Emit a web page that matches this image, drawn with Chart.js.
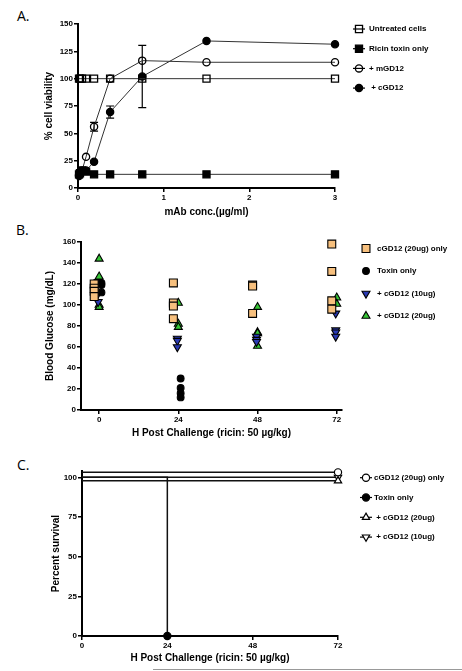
<!DOCTYPE html>
<html>
<head>
<meta charset="utf-8">
<script src="https://cdn.jsdelivr.net/npm/chart.js@4.4.0/dist/chart.umd.min.js"></script>
<style>
  body { margin: 0; background: #fff; width: 462px; height: 671px; position: relative; overflow: hidden; }
  canvas { position: absolute; left: 0; }
  .tag { position: absolute; font-family: "Open Sans", "Liberation Sans", sans-serif; font-size: 14px; line-height: 14px; color: #000; }
  .rule { position: absolute; left: 153px; top: 669px; width: 309px; height: 1px; background: #999; }
</style>
</head>
<body>
<div class="tag" style="left:17px;top:9px">A.</div>
<div class="tag" style="left:16px;top:223px">B.</div>
<div class="tag" style="left:17px;top:458px">C.</div>
<canvas id="chartA" width="462" height="225" style="top:0"></canvas>
<canvas id="chartB" width="462" height="218" style="top:222px"></canvas>
<canvas id="chartC" width="462" height="231" style="top:440px"></canvas>
<div class="rule"></div>
<script>
// A. cell viability vs antibody concentration
const conc = [0.012, 0.023, 0.047, 0.094, 0.1875, 0.375, 0.75, 1.5, 3];
const untreated = [100, 100, 100, 100, 100, 100, 100, 100, 100];
const ricinOnly = [12.5, 13.5, 16, 15, 12.5, 12.5, 12.5, 12.5, 12.5];
const mGD12 = [11, 13, 16, 28.5, 56, 100, 116.5, 115, 115];
const mGD12Err = [0, 0, 0, 0, 4, 0, 0, 0, 0];
const cGD12 = [12, 14, 15, 16, 24, 69.5, 102, 134.5, 131.5];
const cGD12Err = [0, 0, 0, 0, 0, 5.5, 28.5, 0, 0];
const concTicks = [0, 1, 2, 3];
const viabilityTicks = [0, 25, 50, 75, 100, 125, 150];

// B. blood glucose after challenge
const hourTicks = [0, 24, 48, 72];
const glucoseTicks = [0, 20, 40, 60, 80, 100, 120, 140, 160];
const onlyHours = [0, 0, 0, 0, 24, 24, 24, 24, 48, 48, 48, 72, 72, 72, 72];
const onlyGlucose = [120, 116, 113, 108, 121, 102, 99, 87, 119, 118, 92, 158, 132, 104, 96];
const toxinHours = [0, 0, 0, 24, 24, 24, 24];
const toxinGlucose = [121, 119, 112, 30, 21, 16, 12];
const low10Hours = [0, 0, 0, 24, 24, 24, 48, 48, 48, 72, 72, 72, 72];
const low10Glucose = [122, 111, 103, 68, 66, 60, 70, 67, 65, 92, 76, 74, 70];
const high20Hours = [0, 0, 0, 0, 24, 24, 24, 48, 48, 48, 48, 72, 72];
const high20Glucose = [144, 127, 100, 98, 102, 82, 79, 98, 74, 73, 61, 107, 101];

// C. survival
const survivalTicks = [0, 25, 50, 75, 100];
const survHours = [0, 72];
const toxinSurvHours = [0, 24];
const only20Surv = [100, 100];
const toxinSurv = [100, 0];
const plus20Surv = [100, 100];
const plus10Surv = [100, 100];

const FAMILY = '"Liberation Sans", Arial, sans-serif';
const tickFont = { family: FAMILY, size: 8, weight: 'bold' };
const titleFont = { family: FAMILY, size: 10, weight: 'bold' };

const pts = (xs, ys, shift) => xs.map((x, i) => ({ x: x + (shift || 0), y: ys[i] }));

// legend on the right, prism style
const sideLegend = {
  id: 'sideLegend',
  afterDraw(chart, args, o) {
    const ctx = chart.ctx;
    ctx.save();
    chart.data.datasets.forEach((ds, i) => {
      const y = o.top + i * o.gap;
      ctx.strokeStyle = '#000';
      ctx.lineWidth = 1.2;
      if (o.lines) {
        ctx.beginPath();
        ctx.moveTo(o.markX - 6, y);
        ctx.lineTo(o.markX + 6, y);
        ctx.stroke();
      }
      const r = Array.isArray(ds.pointRadius) ? ds.pointRadius[ds.pointRadius.length - 1] : ds.pointRadius;
      ctx.fillStyle = ds.pointBackgroundColor;
      ctx.strokeStyle = ds.pointBorderColor;
      ctx.lineWidth = ds.pointBorderWidth;
      Chart.helpers.drawPoint(ctx, { pointStyle: ds.pointStyle, rotation: ds.pointRotation || 0, radius: r, borderWidth: ds.pointBorderWidth }, o.markX, y);
      ctx.fillStyle = '#000';
      ctx.font = 'bold 8px ' + FAMILY;
      ctx.textBaseline = 'middle';
      ctx.fillText(ds.label, o.textX, y);
    });
    ctx.restore();
  }
};

const errorBars = {
  id: 'errorBars',
  beforeDatasetsDraw(chart) {
    const { ctx, scales: { x, y } } = chart;
    ctx.save();
    ctx.strokeStyle = '#000';
    ctx.lineWidth = 1.2;
    chart.data.datasets.forEach(ds => {
      if (!ds.errors) return;
      ds.data.forEach((p, i) => {
        const e = ds.errors[i];
        if (!e) return;
        const px = x.getPixelForValue(p.x);
        const top = y.getPixelForValue(p.y + e);
        const bot = y.getPixelForValue(p.y - e);
        ctx.beginPath();
        ctx.moveTo(px, top); ctx.lineTo(px, bot);
        ctx.moveTo(px - 4, top); ctx.lineTo(px + 4, top);
        ctx.moveTo(px - 4, bot); ctx.lineTo(px + 4, bot);
        ctx.stroke();
      });
    });
    ctx.restore();
  }
};

// prism offsets overlapping survival curves a few pixels
const offsetCurves = {
  id: 'offsetCurves',
  beforeDatasetDraw(chart, args) {
    chart.ctx.save();
    chart.ctx.translate(0, chart.data.datasets[args.index].nudge || 0);
  },
  afterDatasetDraw(chart) {
    chart.ctx.restore();
  }
};

function yAxis(min, max, tickVals, title, width) {
  return {
    type: 'linear', min: min, max: max,
    ticks: { font: tickFont, color: '#000', padding: 1 },
    grid: { drawOnChartArea: false, color: '#000', tickLength: 4, lineWidth: 1.5 },
    border: { color: '#000', width: 2 },
    title: { display: true, text: title, font: titleFont, color: '#000', padding: 0 },
    afterBuildTicks: s => { s.ticks = tickVals.map(v => ({ value: v })); },
    afterFit: s => { s.width = width; }
  };
}

function xAxis(min, max, tickVals, title, height, padBottom) {
  return {
    type: 'linear', min: min, max: max,
    ticks: { font: tickFont, color: '#000', padding: 1, maxRotation: 0 },
    grid: { drawOnChartArea: false, color: '#000', tickLength: 4, lineWidth: 1.5 },
    border: { color: '#000', width: 2 },
    title: { display: true, text: title, font: titleFont, color: '#000', padding: { top: 0, bottom: padBottom } },
    afterBuildTicks: s => { s.ticks = tickVals.map(v => ({ value: v })); },
    afterFit: s => { s.height = height; }
  };
}

const baseOpts = {
  responsive: false,
  animation: false,
  devicePixelRatio: 1,
  plugins: { legend: { display: false }, tooltip: { enabled: false } }
};

function lineSet(label, ys, style, fill, extra) {
  return Object.assign({
    label: label,
    data: pts(conc, ys),
    borderColor: '#333',
    borderWidth: 1,
    pointStyle: style,
    pointRadius: style === 'rect' ? 5 : 3.6,
    pointBackgroundColor: fill,
    pointBorderColor: '#000',
    pointBorderWidth: 1.3,
    tension: 0,
    clip: false
  }, extra || {});
}

new Chart(document.getElementById('chartA'), {
  type: 'line',
  data: {
    datasets: [
      lineSet('Untreated cells', untreated, 'rect', 'rgba(0,0,0,0)'),
      lineSet('Ricin toxin only', ricinOnly, 'rect', '#000'),
      lineSet('+ mGD12', mGD12, 'circle', 'rgba(0,0,0,0)', { errors: mGD12Err }),
      lineSet(' + cGD12', cGD12, 'circle', '#000', { errors: cGD12Err })
    ]
  },
  options: Object.assign({}, baseOpts, {
    layout: { padding: { left: 43, top: 24, right: 127, bottom: 0 } },
    scales: {
      x: xAxis(0, 3, concTicks, 'mAb conc.(\u00b5g/ml)', 37, 7),
      y: yAxis(0, 150, viabilityTicks, '% cell viability', 35)
    },
    plugins: Object.assign({}, baseOpts.plugins, {
      sideLegend: { markX: 359, textX: 369, top: 29, gap: 19.7, lines: true }
    })
  }),
  plugins: [errorBars, sideLegend]
});

function dotSet(label, xs, ys, shift, style, fill, r, rot) {
  return {
    label: label,
    data: pts(xs, ys, shift),
    showLine: false,
    pointStyle: style,
    pointRadius: r,
    pointRotation: rot || 0,
    pointBackgroundColor: fill,
    pointBorderColor: '#000',
    pointBorderWidth: 1.1,
    clip: false
  };
}

new Chart(document.getElementById('chartB'), {
  type: 'scatter',
  data: {
    datasets: [
      dotSet('cGD12 (20ug) only', onlyHours, onlyGlucose, -1.5, 'rect', '#f7c07e', 5.6),
      dotSet('Toxin only', toxinHours, toxinGlucose, 0.7, 'circle', '#000', 3.4),
      dotSet('+ cGD12 (10ug)', low10Hours, low10Glucose, -0.3, 'triangle', '#2a3ab5', 4.6, 180),
      dotSet('+ cGD12 (20ug)', high20Hours, high20Glucose, 0, 'triangle', '#36c636', 4.6)
    ]
  },
  options: Object.assign({}, baseOpts, {
    layout: { padding: { left: 44, top: 20, right: 120, bottom: 0 } },
    scales: {
      x: xAxis(-5.5, 73.6, hourTicks, 'H Post Challenge (ricin: 50 \u00b5g/kg)', 30, 1),
      y: yAxis(0, 160, glucoseTicks, 'Blood Glucose (mg/dL)', 37)
    },
    plugins: Object.assign({}, baseOpts.plugins, {
      sideLegend: { markX: 366, textX: 377, top: 26.5, gap: 22.5, lines: false }
    })
  }),
  plugins: [sideLegend]
});

function survSet(label, xs, ys, style, fill, r, rot, nudge) {
  return {
    label: label,
    data: pts(xs, ys),
    stepped: true,
    borderColor: '#111',
    borderWidth: 1.5,
    pointStyle: style,
    pointRadius: [0, r],
    pointRotation: rot || 0,
    pointBackgroundColor: fill,
    pointBorderColor: '#000',
    pointBorderWidth: 1.2,
    nudge: nudge,
    clip: false
  };
}

new Chart(document.getElementById('chartC'), {
  type: 'line',
  data: {
    datasets: [
      survSet('cGD12 (20ug) only', survHours, only20Surv, 'circle', '#fff', 3.6, 0, -5),
      survSet('Toxin only', toxinSurvHours, toxinSurv, 'circle', '#000', 3.6, 0, 0),
      survSet(' + cGD12 (20ug)', survHours, plus20Surv, 'triangle', '#fff', 4.2, 0, 3.5),
      survSet(' + cGD12 (10ug)', survHours, plus10Surv, 'triangle', '#fff', 4.2, 180, 0)
    ]
  },
  options: Object.assign({}, baseOpts, {
    layout: { padding: { left: 50, top: 31, right: 124, bottom: 0 } },
    scales: {
      x: xAxis(0, 72, hourTicks, 'H Post Challenge (ricin: 50 \u00b5g/kg)', 35, 7),
      y: yAxis(0, 104, survivalTicks, 'Percent survival', 32)
    },
    plugins: Object.assign({}, baseOpts.plugins, {
      sideLegend: { markX: 366, textX: 374, top: 37.7, gap: 19.8, lines: true }
    })
  }),
  plugins: [offsetCurves, sideLegend]
});
</script>
</body>
</html>
